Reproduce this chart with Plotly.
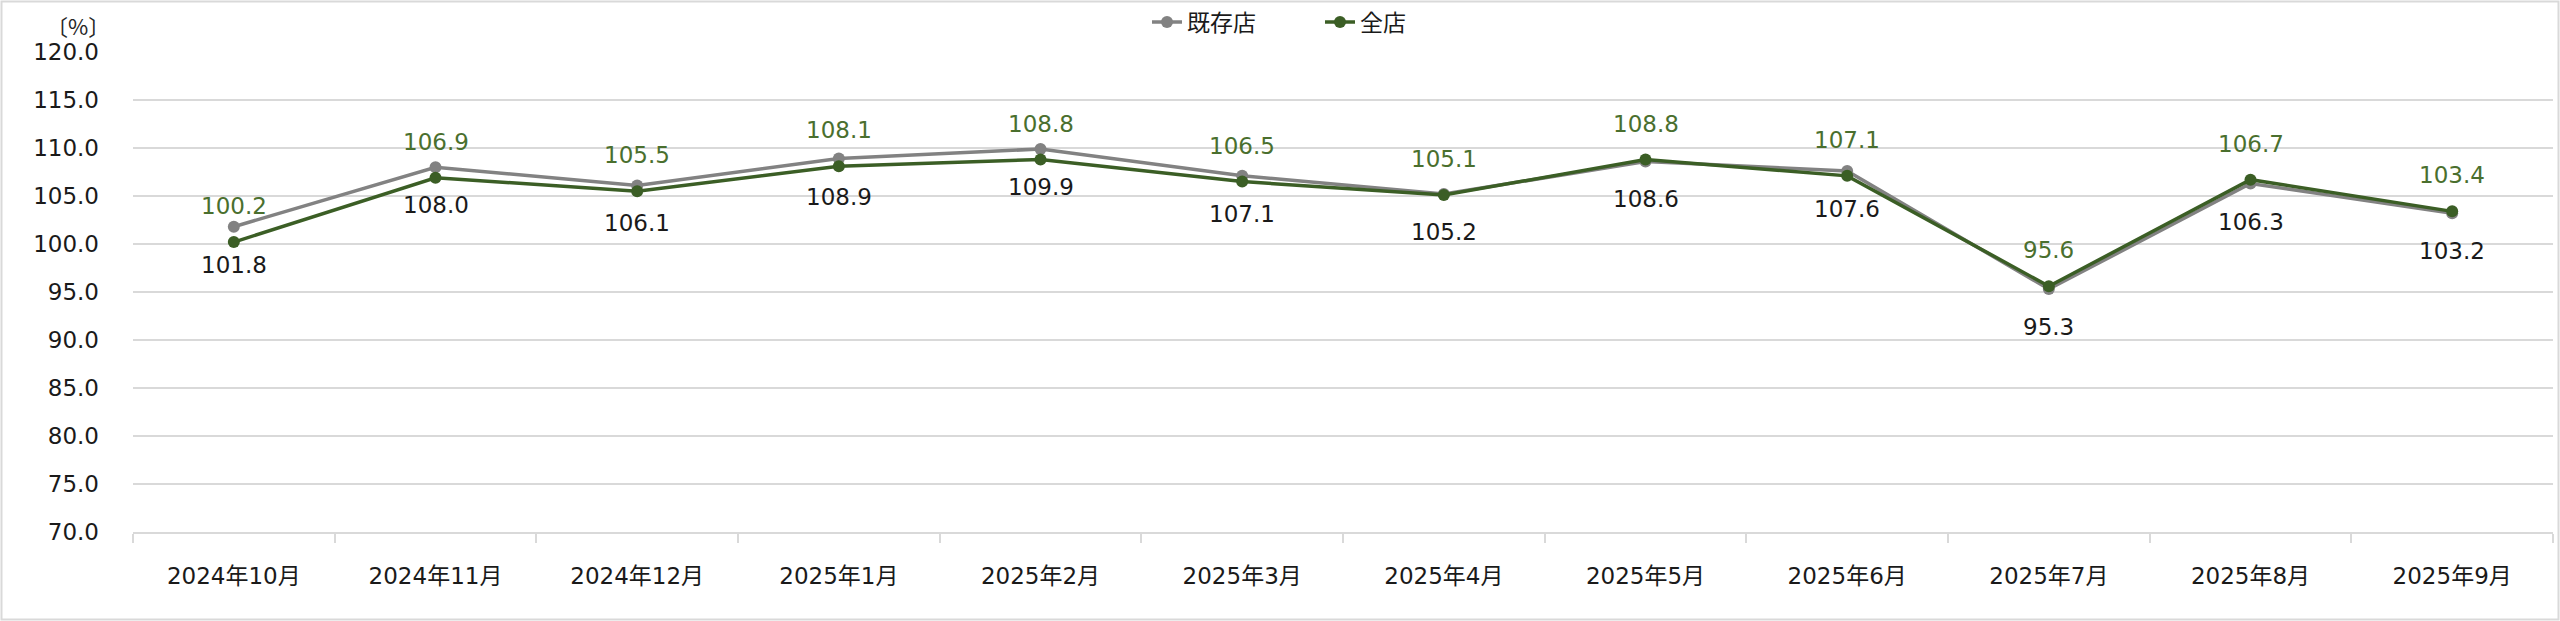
import plotly.graph_objects as go

months = ["2024年10月", "2024年11月", "2024年12月", "2025年1月", "2025年2月", "2025年3月",
          "2025年4月", "2025年5月", "2025年6月", "2025年7月", "2025年8月", "2025年9月"]
existing = [101.8, 108.0, 106.1, 108.9, 109.9, 107.1, 105.2, 108.6, 107.6, 95.3, 106.3, 103.2]
all_stores = [100.2, 106.9, 105.5, 108.1, 108.8, 106.5, 105.1, 108.8, 107.1, 95.6, 106.7, 103.4]
y_ticks = [70, 75, 80, 85, 90, 95, 100, 105, 110, 115, 120]

FONT = "DejaVu Sans, Noto Sans CJK JP, sans-serif"
GRAY = "#828282"
GREEN = "#3b5e25"
LABEL_GREEN = "#4a6f2e"

W, H = 2560, 621
ML, MR, MT, MB = 133, 7, 52, 89

fig = go.Figure()
fig.add_trace(go.Scatter(x=months, y=existing, name="既存店", mode="lines+markers",
                         line=dict(color=GRAY, width=3.5), marker=dict(color=GRAY, size=12)))
fig.add_trace(go.Scatter(x=months, y=all_stores, name="全店", mode="lines+markers",
                         line=dict(color=GREEN, width=3.5), marker=dict(color=GREEN, size=12)))

annotations = []
for m, v in zip(months, all_stores):
    annotations.append(dict(x=m, y=v, xref="x", yref="y", text=f"{v:.1f}", showarrow=False,
                            yshift=36, font=dict(family=FONT, size=23, color=LABEL_GREEN)))
for m, v in zip(months, existing):
    annotations.append(dict(x=m, y=v, xref="x", yref="y", text=f"{v:.1f}", showarrow=False,
                            yshift=-38, font=dict(family=FONT, size=23, color="#1a1a1a")))

pw, ph = W - ML - MR, H - MT - MB
annotations.append(dict(x=(112 - ML) / pw, y=(H - MB - 25) / ph, xref="paper", yref="paper",
                        text="〔%〕", showarrow=False, xanchor="right", yanchor="middle",
                        font=dict(family="Noto Sans CJK JP, sans-serif", size=22, color="#262626")))

fig.update_layout(
    width=W, height=H,
    margin=dict(l=ML, r=MR, t=MT, b=MB, autoexpand=False),
    paper_bgcolor="white", plot_bgcolor="white",
    font=dict(family=FONT, size=23, color="#1a1a1a"),
    showlegend=True,
    legend=dict(orientation="h", x=(1320 - ML) / pw, xanchor="center",
                y=(H - MB - 22) / ph, yanchor="middle",
                font=dict(family=FONT, size=23, color="#1a1a1a"),
                itemwidth=30, entrywidth=128, entrywidthmode="pixels", bgcolor="rgba(0,0,0,0)"),
    annotations=annotations,
    shapes=[dict(type="rect", xref="paper", yref="paper",
                 x0=(1.5 - ML) / pw, x1=(W - 1.5 - ML) / pw,
                 y0=(H - MB - (H - 1.5)) / ph, y1=(H - MB - 1.5) / ph,
                 line=dict(color="#d9d9d9", width=2), fillcolor="rgba(0,0,0,0)", layer="below")],
)
fig.update_xaxes(type="category", range=[-0.5, len(months) - 0.5], tickson="boundaries",
                 ticks="outside", ticklen=9,
                 tickcolor="#d9d9d9", tickwidth=2, showline=True, linecolor="#d9d9d9", linewidth=2,
                 showgrid=False, automargin=False,
                 tickfont=dict(family=FONT, size=23, color="#1a1a1a"), ticklabelstandoff=22)
fig.update_yaxes(range=[70, 120], tickvals=y_ticks, ticktext=[f"{v:.1f}" for v in y_ticks],
                 showgrid=True, gridcolor="#d9d9d9", gridwidth=2, zeroline=False, showline=False,
                 ticks="", automargin=False,
                 tickfont=dict(family=FONT, size=23, color="#1a1a1a"), ticklabelstandoff=33)

fig.write_html("out.html", config={"displayModeBar": False},
               post_script="document.body.style.margin='0';document.body.style.overflow='hidden';")
